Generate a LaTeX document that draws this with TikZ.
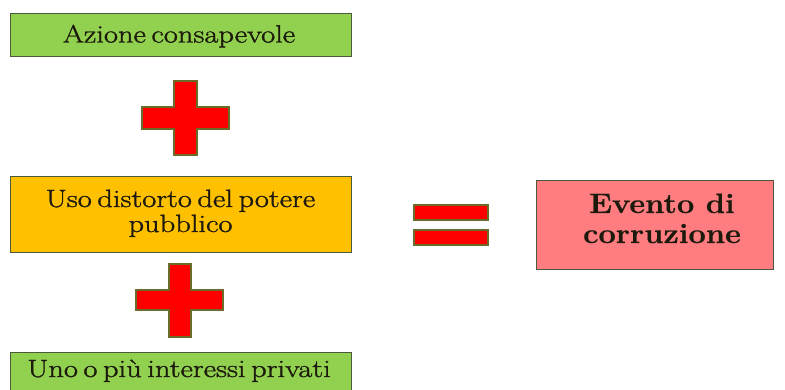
\documentclass[tikz,border=0pt]{standalone}
\usepackage{fontspec}
\newfontfamily\regwide[FakeStretch=1.22,FakeBold=1.3,WordSpace=0.6]{Latin Modern Roman}
\newfontfamily\boldwide[FakeStretch=1.1,FakeBold=0.6]{Latin Modern Roman}
\definecolor{boxgreen}{HTML}{92D050}
\definecolor{boxorange}{HTML}{FFC000}
\definecolor{boxpink}{HTML}{FF7C80}
\definecolor{crossred}{HTML}{FF0000}
\definecolor{crossedge}{HTML}{6B6B2A}
\definecolor{boxedge}{HTML}{4A5A3A}
\definecolor{textdark}{HTML}{1C1A0C}
\begin{document}
\begin{tikzpicture}[x=1pt,y=-1pt,
  box/.style={draw=boxedge, line width=0.9pt, rectangle, inner sep=0pt},
  txt/.style={text=textdark, align=center, inner sep=0pt, font=\regwide\fontsize{25}{27}\selectfont},
  boldtxt/.style={txt, font=\boldwide\bfseries\fontsize{28}{30}\selectfont},
  sign/.style={fill=crossred, draw=crossedge, line width=1.4pt, line join=miter}]
\useasboundingbox (0,0) rectangle (785,390);
\clip (0,0) rectangle (785,390);
\fill[white] (0,0) rectangle (785,390);
% boxes
\node[box, fill=boxgreen, minimum width=341pt, minimum height=43pt] (a) at (180.5,34.5) {};
\node[txt, anchor=base] (at) at (179,42.5) {Azione consapevole};
\node[box, fill=boxorange, minimum width=341pt, minimum height=76pt] (b) at (180.5,214) {};
\node[txt, anchor=base] (bt1) at (180.5,207) {Uso distorto del potere};
\node[txt, anchor=base] (bt2) at (180.5,232) {pubblico};
\node[box, fill=boxgreen, minimum width=341pt, minimum height=50pt, anchor=north] (c) at (180.5,352) {};
\node[txt, anchor=base] (ct) at (179,377) {Uno o più interessi privati};
\node[box, fill=boxpink, minimum width=237pt, minimum height=89pt] (d) at (654.5,224.5) {};
\node[boldtxt, anchor=base] (dt1) at (662,213) {Evento di};
\node[boldtxt, anchor=base] (dt2) at (662,243) {corruzione};
% plus signs
\draw[sign] (174,81) -- (197,81) -- (197,107) -- (229,107) -- (229,129) -- (197,129) -- (197,155) -- (174,155) -- (174,129) -- (142,129) -- (142,107) -- (174,107) -- cycle;
\draw[sign] (169,264) -- (191,264) -- (191,290) -- (223,290) -- (223,310) -- (191,310) -- (191,337) -- (169,337) -- (169,310) -- (136,310) -- (136,290) -- (169,290) -- cycle;
% equals sign
\draw[sign] (414,205) rectangle (488,220);
\draw[sign] (414,230) rectangle (488,245);
\end{tikzpicture}
\end{document}
